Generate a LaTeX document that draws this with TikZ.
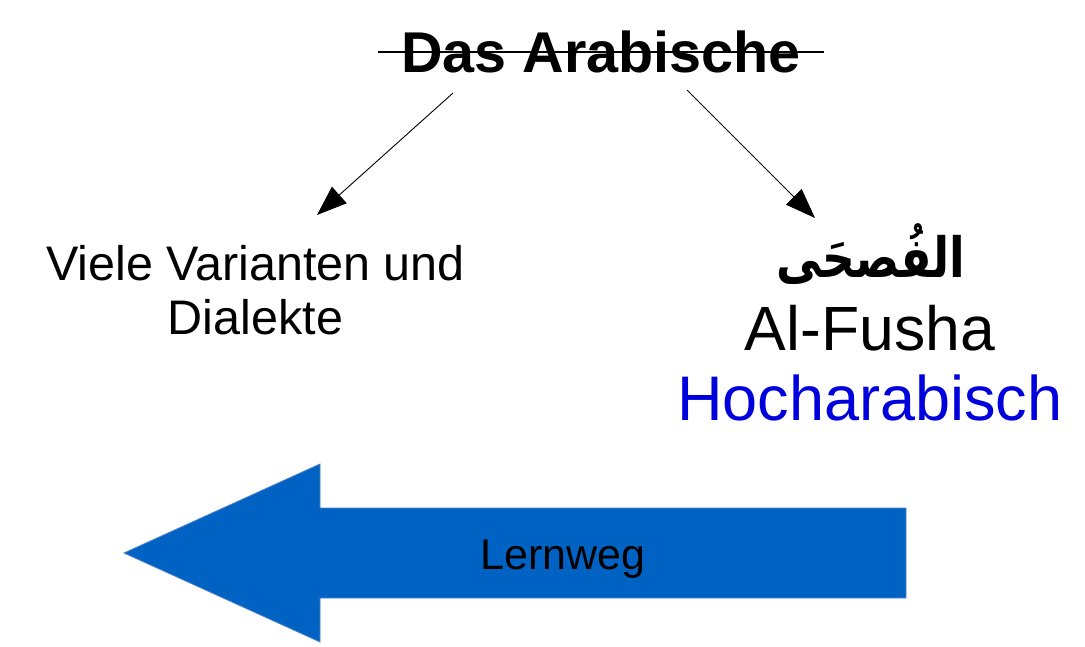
\documentclass[tikz,border=0pt]{standalone}
\usepackage{fontspec}
\setmainfont{Liberation Sans}
\newfontfamily\arabicfont[Script=Arabic]{DejaVu Sans}
\TeXXeTstate=1
\usetikzlibrary{arrows.meta}
\definecolor{arrowblue}{RGB}{0,99,196}
\definecolor{arrowedge}{RGB}{80,130,200}
\definecolor{textblue}{RGB}{0,0,220}
\tikzset{
  txt/.style={inner sep=0pt, outer sep=0pt},
  link/.style={line width=0.9pt, -{Triangle[length=30pt,width=22pt]}},
  bigarrow/.style={fill=arrowblue, draw=arrowedge, line width=0.8pt}
}
\begin{document}
\begin{tikzpicture}[x=1pt,y=-1pt]
\useasboundingbox (0,0) rectangle (1085,647);
% title
\node[txt, anchor=base, font=\fontsize{57.5}{60}\selectfont\bfseries] (title) at (601,73) {Das Arabische};
\draw[line width=2.2pt] (378,52) -- (824,52);
% left text
\node[txt, anchor=center, align=center, font=\fontsize{48.5}{54}\selectfont] (left) at (255.5,290.5) {Viele Varianten und\\Dialekte};
% right texts
\node[txt, anchor=center, font=\fontsize{45.5}{50}\selectfont\arabicfont\bfseries] (arab) at (871,254) {\scalebox{1}[1.22]{\beginR الفُصحَى\endR}};
\node[txt, anchor=base, font=\fontsize{62.5}{66}\selectfont] (fusha) at (870,350) {Al-Fusha};
\node[txt, anchor=base, font=\fontsize{63}{66}\selectfont, text=textblue] (hoch) at (870,420) {Hocharabisch};
% connectors
\coordinate (ls) at (453,93);
\coordinate (le) at (317,215);
\coordinate (rs) at (687,90);
\coordinate (re) at (815,218);
\draw[link] (ls) -- (le);
\draw[link] (rs) -- (re);
% big arrow
\draw[bigarrow] (124,553) -- (320,464) -- (320,508) -- (906,508) -- (906,598) -- (320,598) -- (320,642) -- cycle;
\node[txt, anchor=base, font=\fontsize{43}{46}\selectfont] (lern) at (563,569) {Lernweg};
\end{tikzpicture}
\end{document}
